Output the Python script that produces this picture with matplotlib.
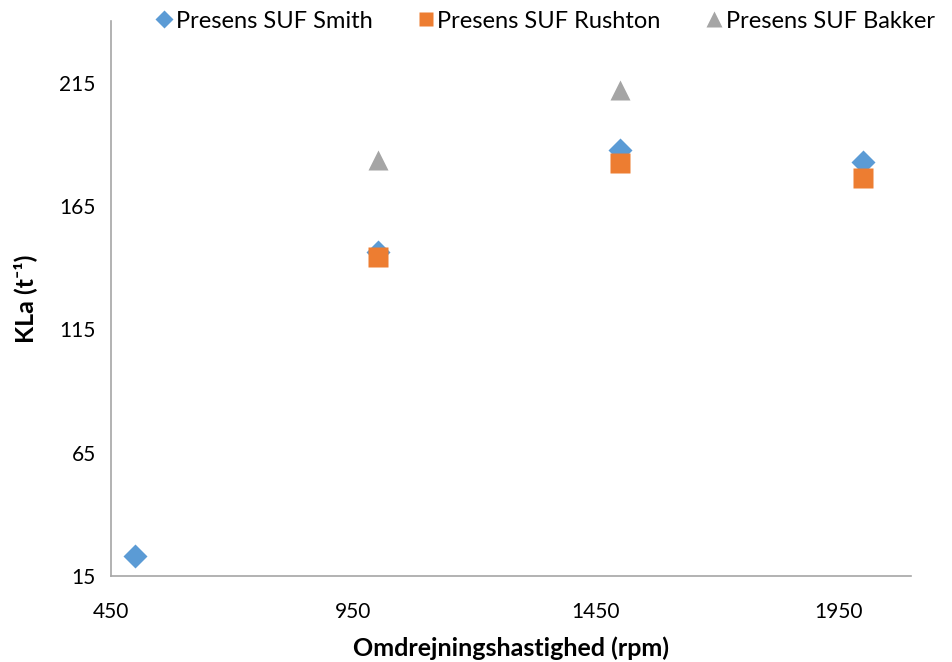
import matplotlib.pyplot as plt

plt.rcParams['font.family'] = ['Lato', 'DejaVu Sans']

# Data
rpm_smith = [500, 1000, 1500, 2000]
kla_smith = [23, 146.5, 187.7, 182.7]

rpm_rushton = [1000, 1500, 2000]
kla_rushton = [144.4, 182.5, 176.5]

rpm_bakker = [1000, 1500]
kla_bakker = [183.6, 212.1]

x_ticks = [450, 950, 1450, 1950]
y_ticks = [15, 65, 115, 165, 215]

fig = plt.figure(figsize=(9.52, 6.62), dpi=100)
ax = fig.add_axes([0.1166, 0.13, 0.8404, 0.838])

ax.plot(rpm_smith, kla_smith, 'D', color='#5B9BD5', ms=12, mec='none', label='Presens SUF Smith')
ax.plot(rpm_rushton, kla_rushton, 's', color='#ED7D31', ms=14, mec='none', label='Presens SUF Rushton')
ax.plot(rpm_bakker, kla_bakker, '^', color='#A5A5A5', ms=15, mec='none', label='Presens SUF Bakker')

ax.set_xlim(450, 2100)
ax.set_ylim(15, 240)
ax.set_xticks(x_ticks)
ax.set_yticks(y_ticks)
ax.tick_params(axis='x', length=0, labelsize=15, pad=19)
ax.tick_params(axis='y', length=0, labelsize=15, pad=11)

for s in ['top', 'right']:
    ax.spines[s].set_visible(False)
for s in ['left', 'bottom']:
    ax.spines[s].set_color('#A6A6A6')
    ax.spines[s].set_linewidth(1.2)

ax.set_xlabel('Omdrejningshastighed (rpm)', fontsize=18, fontweight='bold', labelpad=10)
ax.set_ylabel('KLa (t\u207b\u00b9)', fontsize=18, fontweight='bold', labelpad=16)

fig.legend(loc='upper left', bbox_to_anchor=(0.1636, 0.984), ncol=3, frameon=False,
           fontsize=17, handletextpad=0.15, columnspacing=1.9, handlelength=0.7,
           borderaxespad=0, borderpad=0, markerscale=0.75)

fig.savefig('out.png', dpi=100)
